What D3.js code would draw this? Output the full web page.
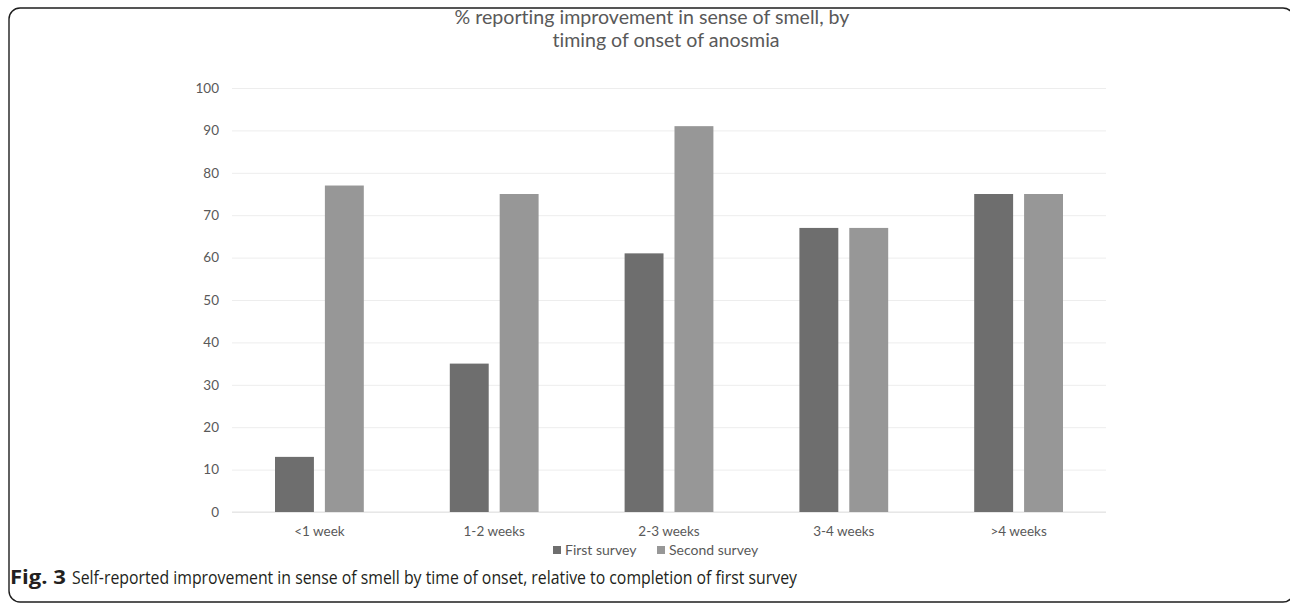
<!DOCTYPE html>
<html>
<head>
<meta charset="utf-8">
<script src="https://cdn.jsdelivr.net/npm/d3@7"></script>
<style>
  html, body { margin: 0; padding: 0; background: #fff; }
  svg { display: block; }
  text { font-variant-ligatures: none; }
</style>
</head>
<body>
<svg id="chart" width="1290" height="605"></svg>
<script>
// Onset-timing groups and the share (%) reporting an improvement in smell
const categories = ["<1 week", "1-2 weeks", "2-3 weeks", "3-4 weeks", ">4 weeks"];
const seriesNames = ["First survey", "Second survey"];
const firstSurvey = [13, 35, 61, 67, 75];
const secondSurvey = [77, 75, 91, 67, 75];
const yTicks = [0, 10, 20, 30, 40, 50, 60, 70, 80, 90, 100];
const seriesColors = ["#6e6e6e", "#979797"];
const titleLines = ["% reporting improvement in sense of smell, by", "timing of onset of anosmia"];

const svg = d3.select("#chart");
const textColor = "#595959";
const chartFont = "Lato, 'Open Sans', sans-serif";

// Panel frame
svg.append("rect")
  .attr("x", 9).attr("y", 8)
  .attr("width", 1285).attr("height", 594)
  .attr("rx", 11).attr("ry", 11)
  .attr("fill", "none")
  .attr("stroke", "#1e1e1e")
  .attr("stroke-width", 1.4);

const plot = { left: 232, right: 1106, top: 88, bottom: 512 };

const x = d3.scaleBand().domain(categories).range([plot.left, plot.right]).padding(0);
const cw = x.bandwidth();
const outer = cw * 0.246;
const xs = d3.scaleBand().domain(seriesNames).range([outer, cw - outer]).paddingInner(0.22).paddingOuter(0);
const y = d3.scaleLinear().domain([0, 100]).range([plot.bottom, plot.top]);

// Gridlines and value axis
const yAxis = d3.axisLeft(y).tickValues(yTicks).tickSize(-(plot.right - plot.left)).tickPadding(13);
const gy = svg.append("g").attr("transform", `translate(${plot.left},0)`).call(yAxis);
gy.select(".domain").remove();
gy.selectAll(".tick line").attr("stroke", "#ededed").attr("stroke-width", 1);
gy.selectAll(".tick text")
  .attr("fill", textColor)
  .style("font-family", chartFont)
  .style("font-size", "13.5px");

// Baseline
svg.append("line")
  .attr("x1", plot.left).attr("x2", plot.right)
  .attr("y1", y(0)).attr("y2", y(0))
  .attr("stroke", "#e2e2e2").attr("stroke-width", 1);

// Category axis labels
const xAxis = d3.axisBottom(x).tickSize(0).tickPadding(14);
const gx = svg.append("g").attr("transform", `translate(0,${plot.bottom})`).call(xAxis);
gx.select(".domain").remove();
gx.selectAll(".tick text")
  .attr("fill", textColor)
  .style("font-family", chartFont)
  .style("font-size", "13.5px");

// Bars
const rows = categories.map((c, i) => ({ cat: c, values: [firstSurvey[i], secondSurvey[i]] }));
const groups = svg.append("g").selectAll("g").data(rows).join("g")
  .attr("transform", d => `translate(${x(d.cat)},0)`);
groups.selectAll("rect")
  .data(d => d.values.map((v, j) => ({ name: seriesNames[j], value: v, j })))
  .join("rect")
  .attr("x", d => xs(d.name))
  .attr("width", xs.bandwidth())
  .attr("y", d => y(d.value))
  .attr("height", d => y(0) - y(d.value))
  .attr("fill", d => seriesColors[d.j]);

// Title (first line carries a trailing wrap space, so it sits a little left)
const titleX = [652, 666];
titleLines.forEach((t, i) => {
  svg.append("text")
    .attr("text-anchor", "middle")
    .attr("fill", textColor)
    .style("font-family", chartFont)
    .style("font-size", "19.6px")
    .attr("x", titleX[i]).attr("y", 24 + i * 23)
    .text(t);
});

// Legend
const legend = svg.append("g").attr("transform", "translate(0,550)");
const legendX = [553, 657];
seriesNames.forEach((name, i) => {
  legend.append("rect")
    .attr("x", legendX[i]).attr("y", -4)
    .attr("width", 8).attr("height", 8)
    .attr("fill", seriesColors[i]);
  legend.append("text")
    .attr("x", legendX[i] + 12).attr("y", 0)
    .attr("dy", "0.35em")
    .attr("fill", textColor)
    .style("font-family", chartFont)
    .style("font-size", "14px")
    .text(name);
});

// Figure caption: bold label, then the description
const captionFont = "'Open Sans', 'Noto Sans', sans-serif";
svg.append("text")
  .attr("x", 10).attr("y", 584)
  .attr("fill", "#231f20")
  .style("font-family", captionFont)
  .style("font-size", "19px")
  .style("font-weight", "700")
  .attr("textLength", 56)
  .attr("lengthAdjust", "spacingAndGlyphs")
  .text("Fig. 3");
svg.append("text")
  .attr("x", 72).attr("y", 584)
  .attr("fill", "#231f20")
  .style("font-family", captionFont)
  .style("font-size", "19px")
  .attr("textLength", 725)
  .attr("lengthAdjust", "spacingAndGlyphs")
  .text("Self-reported improvement in sense of smell by time of onset, relative to completion of first survey");
</script>
</body>
</html>
